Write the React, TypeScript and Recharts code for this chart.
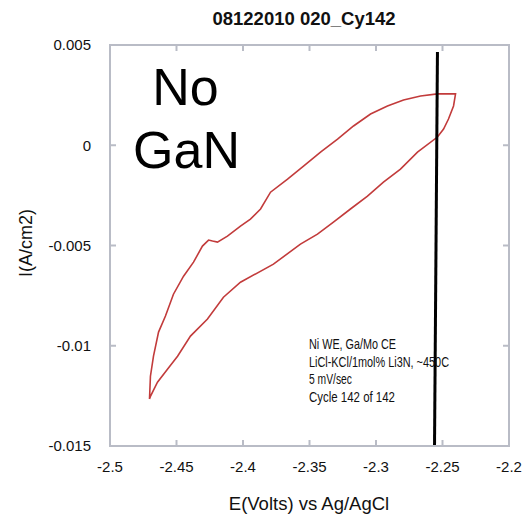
import { LineChart, Line, XAxis, YAxis, ReferenceLine, ReferenceArea } from "recharts";

// forward scan (bottom-left up to the anodic end)
const E_FWD = [-2.4703, -2.4696, -2.4673, -2.4635, -2.4583, -2.4523, -2.4447, -2.4372, -2.4305, -2.4259, -2.4229, -2.4192, -2.4117, -2.4019, -2.3944, -2.3868, -2.3793, -2.3665, -2.3545, -2.3417, -2.3289, -2.3169, -2.3041, -2.2914, -2.2793, -2.2665, -2.2538, -2.2402];
const I_FWD = [-0.01266, -0.01152, -0.01052, -0.00932, -0.00852, -0.00743, -0.00653, -0.00583, -0.00503, -0.00473, -0.00478, -0.00483, -0.00453, -0.00403, -0.00368, -0.00318, -0.00234, -0.00169, -0.00104, -0.00034, 0.00031, 0.00096, 0.00156, 0.00196, 0.00226, 0.00246, 0.00256, 0.00256];
// reverse scan (back down to the start)
const E_REV = [-2.2417, -2.2455, -2.2492, -2.2538, -2.2688, -2.2816, -2.2944, -2.3064, -2.3192, -2.332, -2.344, -2.3568, -2.3771, -2.4019, -2.4147, -2.4267, -2.4395, -2.4492, -2.4568, -2.4643, -2.4695, -2.4703];
const I_REV = [0.00196, 0.00131, 0.00081, 0.00041, -0.00034, -0.00119, -0.00184, -0.00254, -0.00318, -0.00383, -0.00443, -0.00493, -0.00593, -0.00683, -0.00758, -0.00867, -0.00952, -0.01052, -0.01117, -0.01182, -0.01251, -0.01266];

const X_TICKS = [-2.5, -2.45, -2.4, -2.35, -2.3, -2.25, -2.2];
const Y_TICKS = [-0.015, -0.01, -0.005, 0, 0.005];

// hand-drawn marker line
const MARK_E = [-2.2538, -2.256];
const MARK_I = [0.00465, -0.015];

const NOTES = ["Ni WE, Ga/Mo CE", "LiCl-KCl/1mol% Li3N, ~450C", "5 mV/sec", "Cycle 142 of 142"];
const NOTE_W = [87, 140, 43, 86];

const cv = [
  ...E_FWD.map((e, i) => ({ e, i: I_FWD[i] })),
  ...E_REV.map((e, i) => ({ e, i: I_REV[i] })),
];

const X_MIN = -2.5, X_MAX = -2.2, Y_MIN = -0.015, Y_MAX = 0.005;
// inner tick length on the top / right frame, ~6px in data units
const TICK_DY = 0.0003, TICK_DX = 0.0045;

const FONT = "'Liberation Sans', Arial, sans-serif";
const GRID = "#b9bcc6";

export default function App() {
  return (
    <div style={{ position: "absolute", left: 0, top: 0, width: 524, height: 516, background: "#fff", fontFamily: FONT }}>
      <LineChart width={524} height={516} data={cv} margin={{ top: 45, right: 15, bottom: 0, left: 0 }}>
        <XAxis xAxisId="b" dataKey="e" type="number" domain={[X_MIN, X_MAX]} ticks={X_TICKS} interval={0} height={70}
          axisLine={{ stroke: GRID, strokeWidth: 2 }} tickLine={{ stroke: GRID, strokeWidth: 2 }} tickSize={-6} tickMargin={21}
          tick={{ fill: "#111", fontSize: 15, fontFamily: FONT }} allowDataOverflow />
        <YAxis yAxisId="l" type="number" domain={[Y_MIN, Y_MAX]} ticks={Y_TICKS} interval={0} width={110}
          axisLine={{ stroke: GRID, strokeWidth: 2 }} tickLine={{ stroke: GRID, strokeWidth: 2 }} tickSize={-6} tickMargin={25}
          tick={{ fill: "#111", fontSize: 15, fontFamily: FONT }} allowDataOverflow />
        <ReferenceArea xAxisId="b" yAxisId="l" x1={X_MIN} x2={X_MAX} y1={Y_MIN} y2={Y_MAX}
          fill="#ffffff" fillOpacity={0} stroke={GRID} strokeWidth={2} />
        {X_TICKS.slice(1, -1).map((x) => (
          <ReferenceLine key={"t" + x} xAxisId="b" yAxisId="l" stroke={GRID} strokeWidth={2}
            segment={[{ x, y: Y_MAX }, { x, y: Y_MAX - TICK_DY }]} />
        ))}
        {Y_TICKS.slice(1, -1).map((y) => (
          <ReferenceLine key={"r" + y} xAxisId="b" yAxisId="l" stroke={GRID} strokeWidth={2}
            segment={[{ x: X_MAX, y }, { x: X_MAX - TICK_DX, y }]} />
        ))}
        <Line xAxisId="b" yAxisId="l" dataKey="i" type="linear" stroke="#c23b3b" strokeWidth={1.6}
          dot={false} isAnimationActive={false} />
        <ReferenceLine xAxisId="b" yAxisId="l" stroke="#000" strokeWidth={3}
          segment={[{ x: MARK_E[0], y: MARK_I[0] }, { x: MARK_E[1], y: MARK_I[1] }]} />
      </LineChart>

      <svg width={524} height={516} style={{ position: "absolute", left: 0, top: 0, pointerEvents: "none" }} fontFamily={FONT}>
        <text x={304} y={25} textAnchor="middle" fontSize={18.5} fontWeight="bold" fill="#111">08122010 020_Cy142</text>
        <text x={185.5} y={105} textAnchor="middle" fontSize={52} fill="#000">No</text>
        <text x={186.5} y={168} textAnchor="middle" fontSize={52} fill="#000">GaN</text>
        {NOTES.map((t, k) => (
          <text key={t} x={309} y={349 + k * 17.7} fontSize={14} fill="#111" textLength={NOTE_W[k]} lengthAdjust="spacingAndGlyphs">{t}</text>
        ))}
        <text x={309} y={510} textAnchor="middle" fontSize={18.5} fill="#111">E(Volts) vs Ag/AgCl</text>
        <text transform="translate(32,243) rotate(-90)" textAnchor="middle" fontSize={18} fill="#111">I(A/cm2)</text>
      </svg>
    </div>
  );
}
